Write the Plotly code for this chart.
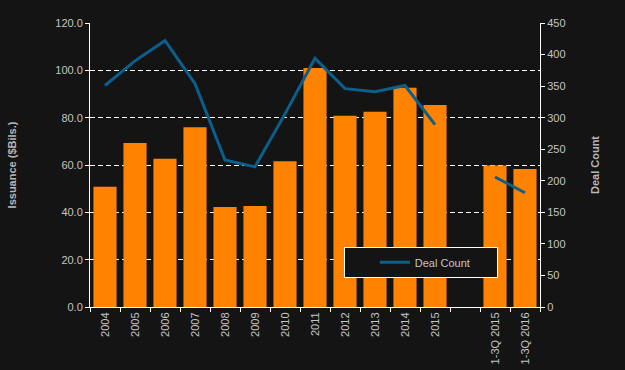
import plotly.graph_objects as go

categories = ["2004", "2005", "2006", "2007", "2008", "2009", "2010", "2011",
              "2012", "2013", "2014", "2015", " ", "1-3Q 2015", "1-3Q 2016"]
issuance = [50.8, 69.3, 62.6, 76.0, 42.3, 42.7, 61.6, 101.0, 80.8, 82.5,
            92.6, 85.4, None, 59.8, 58.3]
deal_count = [351, 390, 422, 354, 233, 222, 306, 394, 346, 341, 351, 289,
              None, 206, 181]
left_ticks = [0, 20, 40, 60, 80, 100, 120]
right_ticks = [0, 50, 100, 150, 200, 250, 300, 350, 400, 450]

BG = "#141414"
TICK = "#c4c4c4"
FONT = "Liberation Sans, Arial, sans-serif"

fig = go.Figure()
fig.add_trace(go.Bar(x=categories, y=issuance, name="Issuance",
                     marker=dict(color="#ff8200", line=dict(width=0)),
                     showlegend=False))
fig.add_trace(go.Scatter(x=categories, y=deal_count, name="Deal Count",
                         mode="lines", yaxis="y2", connectgaps=False,
                         line=dict(color="#0a5f8c", width=3)))

fig.update_layout(
    width=625, height=370,
    margin=dict(l=90, r=85, t=23, b=63),
    paper_bgcolor=BG, plot_bgcolor=BG,
    font=dict(family=FONT, size=11, color=TICK),
    bargap=0.23,
    xaxis=dict(type="category", categoryorder="array", categoryarray=categories,
               tickangle=-90, tickson="boundaries", ticks="outside",
               ticklen=4, tickcolor="white", showline=True, linecolor="white",
               linewidth=1, showgrid=False, tickfont=dict(size=11, color=TICK),
               range=[-0.5, 14.5], automargin=False),
    yaxis=dict(range=[0, 120], tickvals=left_ticks, tickformat=".1f",
               showline=True, linecolor="white", linewidth=1,
               ticks="outside", ticklen=4, tickcolor="white",
               showgrid=True, gridcolor="white", gridwidth=1, griddash="5px,3px",
               zeroline=False, automargin=False,
               title=dict(text="<b>Issuance ($Bils.)</b>", font=dict(size=11, color="#b8b8b8"),
                          standoff=36),
               tickfont=dict(size=11, color=TICK)),
    yaxis2=dict(range=[0, 450], tickvals=right_ticks, overlaying="y", side="right",
                showline=True, linecolor="white", linewidth=1,
                ticks="outside", ticklen=4, tickcolor="white",
                showgrid=False, zeroline=False, automargin=False,
                title=dict(text="<b>Deal Count</b>", font=dict(size=11, color="#b8b8b8"),
                           standoff=26),
                tickfont=dict(size=11, color=TICK)),
    legend=dict(x=0.564, y=0.212, xanchor="left", yanchor="top",
                orientation="h",
                bgcolor=BG, bordercolor="white", borderwidth=1,
                font=dict(size=11, color=TICK), indentation=30,
                entrywidth=77, entrywidthmode="pixels"),
)

fig.write_html("out.html", config={"displayModeBar": False},
               post_script="document.body.style.margin='0';document.body.style.background='#141414';")
